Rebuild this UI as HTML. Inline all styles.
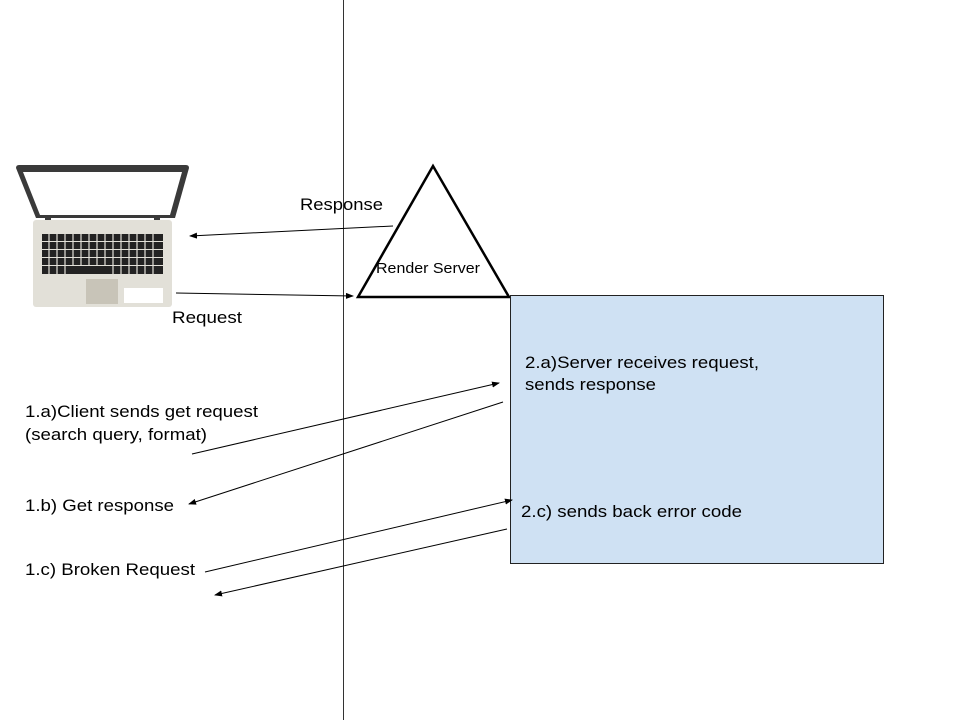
<!DOCTYPE html>
<html><head><meta charset="utf-8"><style>
html,body{margin:0;padding:0;background:#fff;}
svg{display:block;}
text{font-family:"Liberation Sans",sans-serif;fill:#000;}
</style></head><body>
<svg width="960" height="720" viewBox="0 0 960 720" xmlns="http://www.w3.org/2000/svg">
<defs>
<marker id="a" markerWidth="8" markerHeight="6" refX="7" refY="3" orient="auto" markerUnits="userSpaceOnUse">
<path d="M0,0 L8,3 L0,6 Z" fill="#000"/></marker>
</defs>
<rect width="960" height="720" fill="#fff"/>
<line x1="343.5" y1="0" x2="343.5" y2="720" stroke="#333" stroke-width="1"/>
<!-- laptop -->
<path d="M16,168 Q16,165 19,165 L186,165 Q189,165 189,168 L175,218 L36,218 Z" fill="#3a3a3a"/>
<path d="M23,172 L182,172 L170,215 L40,215 Z" fill="#fff"/>
<rect x="45" y="218" width="6" height="8" fill="#3a3a3a"/>
<rect x="154" y="218" width="6" height="8" fill="#3a3a3a"/>
<rect x="33" y="220" width="139" height="87" rx="3" fill="#e2e0d8"/>
<g fill="#222">
<rect x="42" y="234" width="121" height="7"/>
<rect x="42" y="242" width="121" height="7"/>
<rect x="42" y="250" width="121" height="7"/>
<rect x="42" y="258" width="121" height="7"/>
<rect x="42" y="266" width="121" height="8"/>
</g>
<g stroke="#e2e0d8" stroke-width="1.2">
<path d="M49,234V265M57,234V265M65,234V265M73,234V265M81,234V265M89,234V265M97,234V265M105,234V265M113,234V265M121,234V265M129,234V265M137,234V265M145,234V265M153,234V265M49,266V274M57,266V274M65,266V274M113,266V274M121,266V274M129,266V274M137,266V274M145,266V274M153,266V274"/>
</g>
<rect x="86" y="279" width="32" height="25" fill="#c8c4b8"/>
<rect x="124" y="288" width="39" height="15" fill="#fff"/>
<!-- triangle -->
<polygon points="433,166 358,297 509,297" fill="#fff" stroke="#000" stroke-width="2.5"/>
<text x="376" y="273" font-size="15" textLength="104" lengthAdjust="spacingAndGlyphs">Render Server</text>
<!-- box -->
<rect x="510.5" y="295.5" width="373" height="268" fill="#cfe1f3" stroke="#222" stroke-width="1"/>
<text x="525" y="368" font-size="17" textLength="234" lengthAdjust="spacingAndGlyphs">2.a)Server receives request,</text>
<text x="525" y="390" font-size="17" textLength="131" lengthAdjust="spacingAndGlyphs">sends response</text>
<text x="521" y="517" font-size="17" textLength="221" lengthAdjust="spacingAndGlyphs">2.c) sends back error code</text>
<!-- labels -->
<text x="300" y="210" font-size="17" textLength="83" lengthAdjust="spacingAndGlyphs">Response</text>
<text x="172" y="323" font-size="17" textLength="70" lengthAdjust="spacingAndGlyphs">Request</text>
<text x="25" y="417" font-size="17" textLength="233" lengthAdjust="spacingAndGlyphs">1.a)Client sends get request</text>
<text x="25" y="440" font-size="17" textLength="182" lengthAdjust="spacingAndGlyphs">(search query, format)</text>
<text x="25" y="511" font-size="17" textLength="149" lengthAdjust="spacingAndGlyphs">1.b) Get response</text>
<text x="25" y="575" font-size="17" textLength="170" lengthAdjust="spacingAndGlyphs">1.c) Broken Request</text>
<!-- arrows -->
<g stroke="#000" stroke-width="1" fill="none" marker-end="url(#a)">
<line x1="393" y1="226" x2="190" y2="236"/>
<line x1="176" y1="293" x2="353" y2="296"/>
<line x1="192" y1="454" x2="499" y2="383"/>
<line x1="503" y1="402" x2="189" y2="504"/>
<line x1="205" y1="572" x2="512" y2="500"/>
<line x1="507" y1="529" x2="215" y2="595"/>
</g>
</svg>
</body></html>
